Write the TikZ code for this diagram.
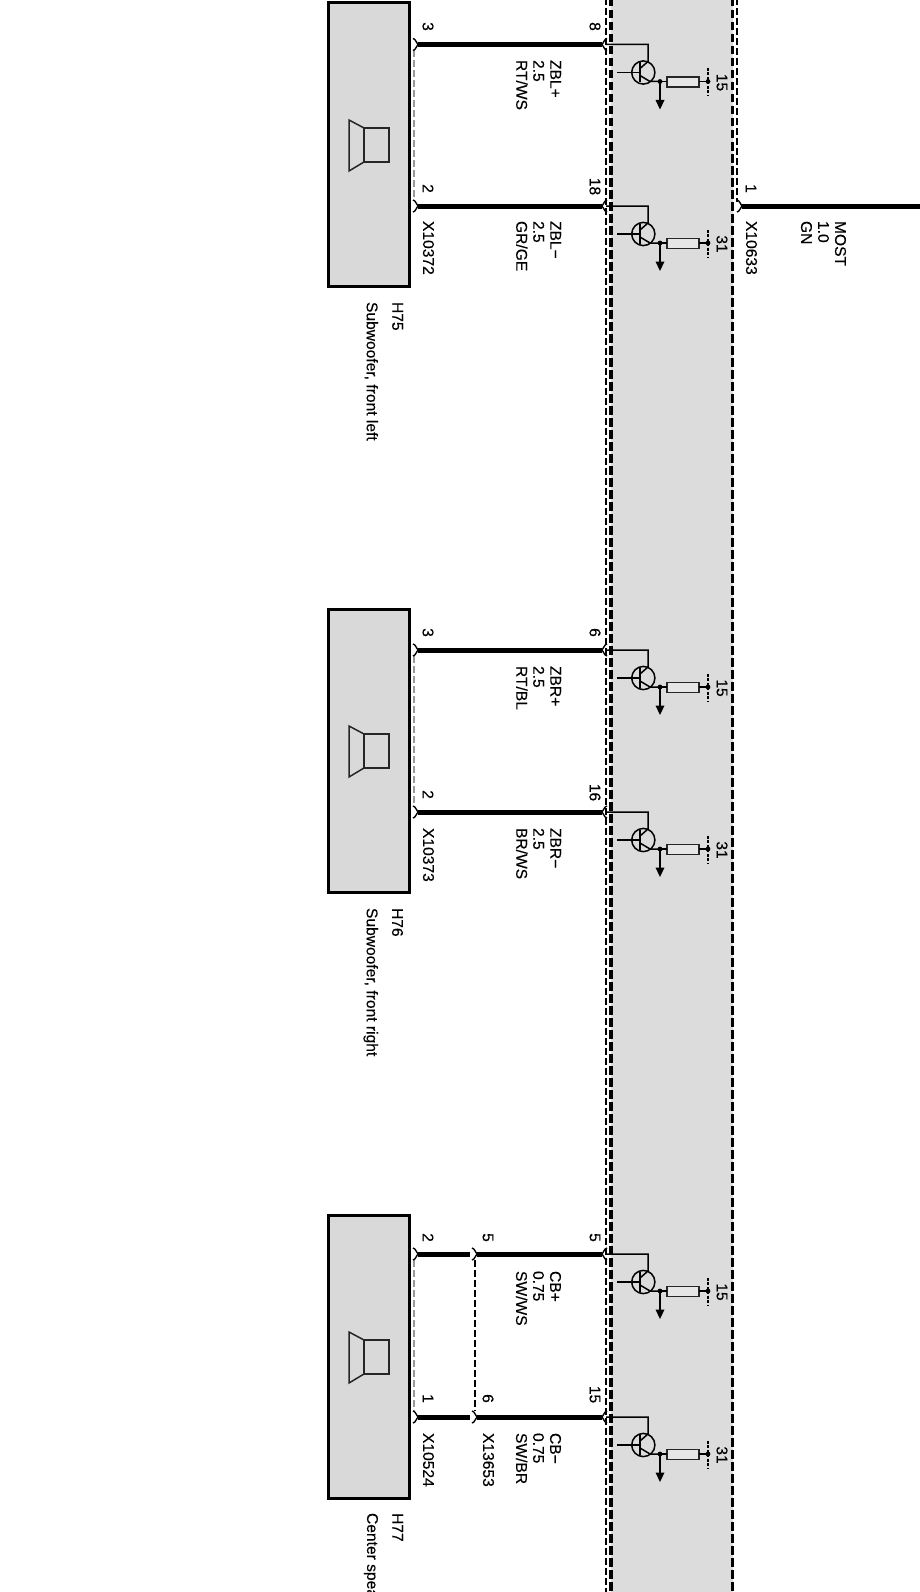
\documentclass[tikz,border=0pt]{standalone}
\usepackage{fontspec}
\setmainfont{Liberation Sans}
\newfontfamily\lblfont[FakeBold=0.25]{Liberation Sans}
\definecolor{bandgrey}{HTML}{DCDCDC}
\definecolor{boxgrey}{HTML}{D9D9D9}
\definecolor{resfill}{HTML}{E6E6E6}
\tikzset{
  x=1pt,y=-1pt,
  lbl/.style={rotate=-90,anchor=north west,inner sep=0pt,outer sep=0pt,align=left,font=\lblfont\fontsize{15.6}{17}\selectfont,text=black},
  pinlbl/.style={rotate=-90,anchor=center,inner sep=0pt,outer sep=0pt,font=\lblfont\fontsize{15.6}{17}\selectfont,text=black},
  ctrlbox/.style={draw=black,line width=3pt,fill=boxgrey,line join=miter},
  wirethick/.style={line width=5pt,black},
  thindash/.style={line width=1.1pt,black,dash pattern=on 7pt off 3pt},
  greydash/.style={line width=1.1pt,black!40,dash pattern=on 7pt off 3pt},
  thickdash/.style={line width=3.6pt,black,dash pattern=on 8.5pt off 3.5pt},
  fine/.style={line width=1.5pt,black},
  spk/.style={line width=1.5pt,black!85},
  pinglyph/.style={line width=1.4pt,black},
}
% connector whose point faces right (wire leaves to the right)
\newcommand{\conR}[1]{\draw[pinglyph,shift={(#1)}] (-5,-6) .. controls (-2,-5.5) and (-2,-1.5) .. (0,0) .. controls (-2,1.5) and (-2,5.5) .. (-5,6);}
% connector whose point faces left (wire leaves to the left)
\newcommand{\conL}[1]{\draw[pinglyph,shift={(#1)}] (5,-6) .. controls (2,-5.5) and (2,-1.5) .. (0,0) .. controls (2,1.5) and (2,5.5) .. (5,6);}
% driver stage #1 = prefix, #2 = wire y, #3 = supply label
\newcommand{\drvr}[3]{
  \begin{scope}[shift={(0,#2)}]
    \coordinate (#1c) at (606,0);
    \coordinate (#1k) at (648,0);
    \coordinate (#1t) at (643.3,28);
    \coordinate (#1j) at (660,37);
    \coordinate (#1e) at (708,37);
    \coordinate (#1a) at (660,57);
    \draw[fine] (#1t) circle (11.6);
    \draw[fine] (#1c) -- (#1k) -- (648,17) -- (640,24);
    \draw[fine] (617,28) -- (640,28);
    \draw[line width=1.7pt] (640,18) -- (640,38);
    \draw[fine] (640,31) -- (650,37) -- (#1j);
    \draw[line width=1.2pt,black!85,fill=resfill] (667,32.5) rectangle (699,42.5);
    \draw[fine] (#1j) -- (667,37);
    \draw[fine] (699,37) -- (#1e);
    \draw[fine] (#1j) -- (#1a);
    \fill[black] (655.5,55.5) -- (664.5,55.5) -- (660,65) -- cycle;
    \fill[black] (#1j) circle (2.4);
    \fill[black] (#1e) circle (2.4);
    \draw[line width=1.3pt,dash pattern=on 3pt off 1.5pt] (708,23.5) -- (708,51.5);
    \node[pinlbl] (#1l) at (722,38) {#3};
  \end{scope}
}
% speaker box #1 = prefix, #2 = box top
\newcommand{\spkbox}[2]{
  \begin{scope}[shift={(0,#2)}]
    \node[ctrlbox,minimum width=81pt,minimum height=283pt,inner sep=0pt,outer sep=0pt] (#1) at (368.5,141.5) {};
    \draw[spk] (349,117) -- (364,125) -- (364,159) -- (349,168) -- cycle;
    \draw[spk] (364,125) rectangle (389,159);
  \end{scope}
}
\begin{document}
\begin{tikzpicture}
\useasboundingbox (0,0) rectangle (920,1592);
\fill[white] (0,0) rectangle (920,1592);
% control unit band
\fill[bandgrey] (611,-2) rectangle (732.5,1594);
\draw[thindash] (606,-2) -- (606,1594);
\draw[thickdash] (611,-2) -- (611,1594);
\draw[thickdash] (732.5,-2) -- (732.5,1594);
\draw[thindash] (737,-2) -- (737,202);

% --- H75 ---
\spkbox{hA}{3}
\coordinate (aL) at (418,44.5); \coordinate (aR) at (602,44.5);
\coordinate (bL) at (418,206);  \coordinate (bR) at (602,206);
\draw[wirethick] (aL) -- (aR);
\draw[wirethick] (bL) -- (bR);
\draw[greydash] (414,50) -- (414,200);
\conR{aL}\conR{bL}\conL{aR}\conL{bR}
\drvr{dA}{44.5}{15}
\drvr{dB}{206}{31}
\node[pinlbl] (p1) at (428,26.5) {3};
\node[pinlbl] (p2) at (428,188.5) {2};
\node[pinlbl] (p3) at (595,26.5) {8};
\node[pinlbl] (p4) at (595,186.5) {18};
\node[lbl] (t1) at (561,60) {ZBL+\\2.5\\RT/WS};
\node[lbl] (t2) at (561,221) {ZBL−\\2.5\\GR/GE};
\node[lbl] (t3) at (434,221) {X10372};
\node[lbl] (t4) at (403,302) {H75};
\node[lbl] (t5) at (378,302) {Subwoofer, front left};

% --- MOST ---
\coordinate (mL) at (742,206); \coordinate (mR) at (922,206);
\draw[wirethick] (mL) -- (mR);
\conR{mL}
\node[pinlbl] (p5) at (751,188.5) {1};
\node[lbl] (t6) at (757,221) {X10633};
\node[lbl] (t7) at (846,221) {MOST\\1.0\\GN};

% --- H76 ---
\spkbox{hB}{609}
\coordinate (cL) at (418,650); \coordinate (cR) at (602,650);
\coordinate (dL) at (418,812); \coordinate (dR) at (602,812);
\draw[wirethick] (cL) -- (cR);
\draw[wirethick] (dL) -- (dR);
\draw[greydash] (414,656) -- (414,806);
\conR{cL}\conR{dL}\conL{cR}\conL{dR}
\drvr{dC}{650}{15}
\drvr{dD}{812}{31}
\node[pinlbl] (p6) at (428,632.5) {3};
\node[pinlbl] (p7) at (428,794.5) {2};
\node[pinlbl] (p8) at (595,632.5) {6};
\node[pinlbl] (p9) at (595,792.5) {16};
\node[lbl] (t8) at (561,666) {ZBR+\\2.5\\RT/BL};
\node[lbl] (t9) at (561,828) {ZBR−\\2.5\\BR/WS};
\node[lbl] (t10) at (434,828) {X10373};
\node[lbl] (t11) at (403,908) {H76};
\node[lbl] (t12) at (378,908) {Subwoofer, front right};

% --- H77 ---
\spkbox{hC}{1215}
\coordinate (eL) at (418,1254); \coordinate (eM) at (470,1254);
\coordinate (eN) at (477,1254); \coordinate (eR) at (602,1254);
\coordinate (fL) at (418,1417); \coordinate (fM) at (470,1417);
\coordinate (fN) at (477,1417); \coordinate (fR) at (602,1417);
\draw[wirethick] (eL) -- (eM);
\draw[wirethick] (eN) -- (eR);
\draw[wirethick] (fL) -- (fM);
\draw[wirethick] (fN) -- (fR);
\draw[greydash] (414,1260) -- (414,1411);
\draw[thindash] (475,1260) -- (475,1411);
\conR{eL}\conR{fL}\conR{eN}\conR{fN}\conL{eR}\conL{fR}
\drvr{dE}{1254}{15}
\drvr{dF}{1417}{31}
\node[pinlbl] (p10) at (428,1237.5) {2};
\node[pinlbl] (p11) at (428,1398.5) {1};
\node[pinlbl] (p12) at (488,1237.5) {5};
\node[pinlbl] (p13) at (488,1398.5) {6};
\node[pinlbl] (p14) at (595,1237.5) {5};
\node[pinlbl] (p15) at (595,1394.5) {15};
\node[lbl] (t13) at (561,1271) {CB+\\0.75\\SW/WS};
\node[lbl] (t14) at (561,1433) {CB−\\0.75\\SW/BR};
\node[lbl] (t15) at (434,1433) {X10524};
\node[lbl] (t16) at (494,1433) {X13653};
\node[lbl] (t17) at (403,1513) {H77};
\node[lbl] (t18) at (378,1513) {Center spea};
\end{tikzpicture}
\end{document}
